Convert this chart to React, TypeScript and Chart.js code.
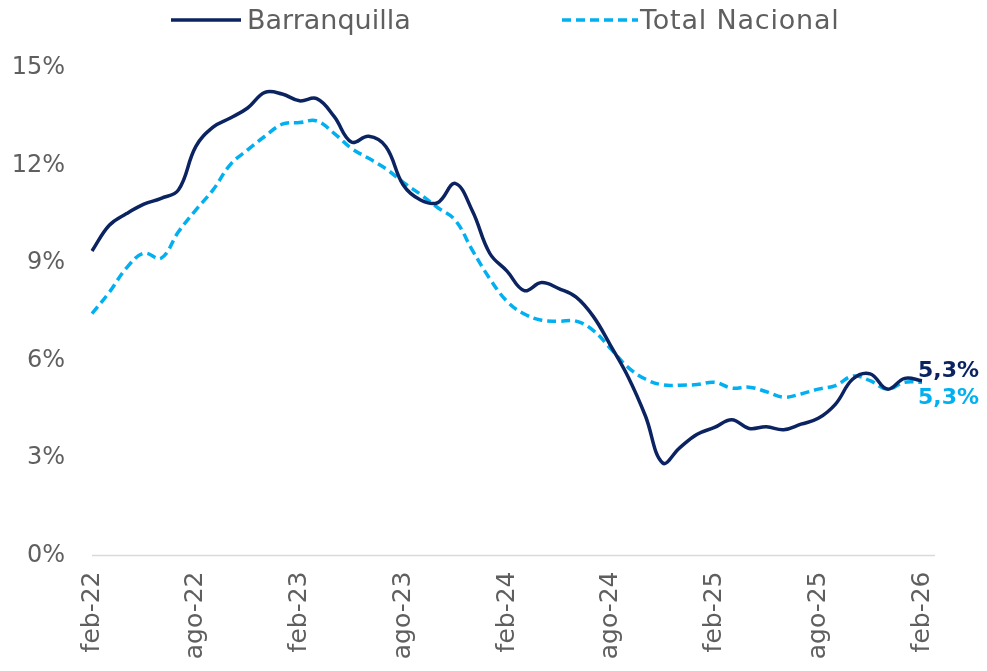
import React, { useEffect, useRef } from "react";
import { Chart, registerables } from "chart.js";

Chart.register(...registerables);

const CATEGORIES = [
  "feb-22", "mar-22", "abr-22", "may-22", "jun-22", "jul-22", "ago-22", "sep-22", "oct-22", "nov-22", "dic-22", "ene-23",
  "feb-23", "mar-23", "abr-23", "may-23", "jun-23", "jul-23", "ago-23", "sep-23", "oct-23", "nov-23", "dic-23", "ene-24",
  "feb-24", "mar-24", "abr-24", "may-24", "jun-24", "jul-24", "ago-24", "sep-24", "oct-24", "nov-24", "dic-24", "ene-25",
  "feb-25", "mar-25", "abr-25", "may-25", "jun-25", "jul-25", "ago-25", "sep-25", "oct-25", "nov-25", "dic-25", "ene-26",
  "feb-26",
];

const BARRANQUILLA = [
  9.37, 10.16, 10.52, 10.81, 10.99, 11.25, 12.58, 13.18, 13.46, 13.77, 14.25, 14.2,
  13.99, 14.06, 13.51, 12.72, 12.9, 12.58, 11.4, 10.94, 10.86, 11.45, 10.6, 9.3,
  8.75, 8.15, 8.4, 8.21, 7.95, 7.35, 6.45, 5.5, 4.3, 2.85, 3.32, 3.73,
  3.94, 4.18, 3.91, 3.96, 3.87, 4.04, 4.22, 4.66, 5.43, 5.59, 5.12, 5.45,
  5.38,
];

const TOTAL_NACIONAL = [
  7.44, 8.1, 8.85, 9.3, 9.15, 9.96, 10.63, 11.25, 12.03, 12.48, 12.9, 13.27,
  13.32, 13.37, 12.99, 12.53, 12.22, 11.9, 11.48, 11.11, 10.7, 10.32, 9.39, 8.52,
  7.82, 7.43, 7.24, 7.21, 7.21, 6.92, 6.36, 5.79, 5.43, 5.25, 5.24, 5.26,
  5.33, 5.15, 5.18, 5.04, 4.87, 4.97, 5.12, 5.23, 5.52, 5.38, 5.12, 5.33,
  5.33,
];

const SERIES_NAMES = ["Barranquilla", "Total Nacional"];
const END_LABELS = ["5,3%", "5,3%"];
const Y_MIN = 0;
const Y_MAX = 15;
const Y_STEP = 3;
const X_LABEL_EVERY = 6;

const DARK = "#0b2461";
const LIGHT = "#00b0f0";
const TEXT = "#5f5f5f";
const FONT = "'DejaVu Sans', sans-serif";

const zeroLinePlugin = {
  id: "zeroLine",
  beforeDatasetsDraw(chart: any) {
    const { ctx, chartArea, scales } = chart;
    const y = scales.y.getPixelForValue(0);
    ctx.save();
    ctx.strokeStyle = "#d9d9d9";
    ctx.lineWidth = 1.5;
    ctx.beginPath();
    ctx.moveTo(chartArea.left, y);
    ctx.lineTo(chartArea.right + 13, y);
    ctx.stroke();
    ctx.restore();
  },
};

const endLabelPlugin = {
  id: "endLabels",
  afterDatasetsDraw(chart: any) {
    const { ctx } = chart;
    const offsets = [-9, 16];
    const colors = [DARK, LIGHT];
    chart.data.datasets.forEach((_ds: any, i: number) => {
      const meta = chart.getDatasetMeta(i);
      const pt = meta.data[meta.data.length - 1];
      if (!pt) return;
      ctx.save();
      ctx.font = `bold 22px ${FONT}`;
      ctx.fillStyle = colors[i];
      ctx.textAlign = "left";
      ctx.textBaseline = "middle";
      ctx.fillText(END_LABELS[i], pt.x - 4, pt.y + offsets[i]);
      ctx.restore();
    });
  },
};

export default function App() {
  const canvasRef = useRef<HTMLCanvasElement | null>(null);

  useEffect(() => {
    const canvas = canvasRef.current;
    if (!canvas) return;
    const chart = new Chart(canvas, {
      type: "line",
      data: {
        labels: CATEGORIES,
        datasets: [
          {
            label: SERIES_NAMES[0],
            data: BARRANQUILLA,
            borderColor: DARK,
            backgroundColor: DARK,
            borderWidth: 3.5,
            pointRadius: 0,
            tension: 0.4,
            fill: false,
          },
          {
            label: SERIES_NAMES[1],
            data: TOTAL_NACIONAL,
            borderColor: LIGHT,
            backgroundColor: LIGHT,
            borderWidth: 3.5,
            borderDash: [9, 5],
            pointRadius: 0,
            tension: 0.4,
            fill: false,
          },
        ],
      },
      options: {
        responsive: false,
        animation: false,
        devicePixelRatio: 1,
        layout: { padding: { top: 68, right: 65, left: 0, bottom: 0 } },
        plugins: {
          legend: { display: false },
          tooltip: { enabled: false },
        },
        scales: {
          x: {
            grid: { display: false, drawTicks: false },
            border: { display: false },
            afterFit: (axis: any) => {
              axis.height = 115.5;
            },
            ticks: {
              autoSkip: false,
              maxRotation: 90,
              minRotation: 90,
              padding: 16,
              color: TEXT,
              font: { family: FONT, size: 25 },
              callback: (_v: any, i: number) => (i % X_LABEL_EVERY === 0 ? CATEGORIES[i] : ""),
            },
          },
          y: {
            min: Y_MIN,
            max: Y_MAX,
            grid: { display: false, drawTicks: false },
            border: { display: false },
            afterFit: (axis: any) => {
              axis.width = 92;
            },
            ticks: {
              stepSize: Y_STEP,
              padding: 27,
              color: TEXT,
              font: { family: FONT, size: 24 },
              callback: (v: any) => `${v}%`,
            },
          },
        },
      },
      plugins: [zeroLinePlugin, endLabelPlugin],
    });
    return () => chart.destroy();
  }, []);

  const legendText: React.CSSProperties = {
    fontFamily: FONT,
    fontSize: 27,
    color: TEXT,
    lineHeight: "40px",
    whiteSpace: "nowrap",
  };

  return (
    <div style={{ position: "fixed", left: 0, top: 0, width: 987, height: 671, background: "#fff" }}>
      <canvas ref={canvasRef} width={987} height={671} style={{ width: 987, height: 671, display: "block" }} />
      <div style={{ position: "absolute", left: 171, top: 0, display: "flex", alignItems: "center", height: 40 }}>
        <svg width={72} height={8} style={{ display: "block" }}>
          <line x1={0} y1={4} x2={70} y2={4} stroke={DARK} strokeWidth={3.5} />
        </svg>
        <span style={{ ...legendText, marginLeft: 4 }}>{SERIES_NAMES[0]}</span>
      </div>
      <div style={{ position: "absolute", left: 562, top: 0, display: "flex", alignItems: "center", height: 40 }}>
        <svg width={76} height={8} style={{ display: "block" }}>
          <line x1={0} y1={4} x2={76} y2={4} stroke={LIGHT} strokeWidth={3.5} strokeDasharray="9 5" />
        </svg>
        <span style={{ ...legendText, marginLeft: 2, letterSpacing: 0.8 }}>{SERIES_NAMES[1]}</span>
      </div>
    </div>
  );
}
